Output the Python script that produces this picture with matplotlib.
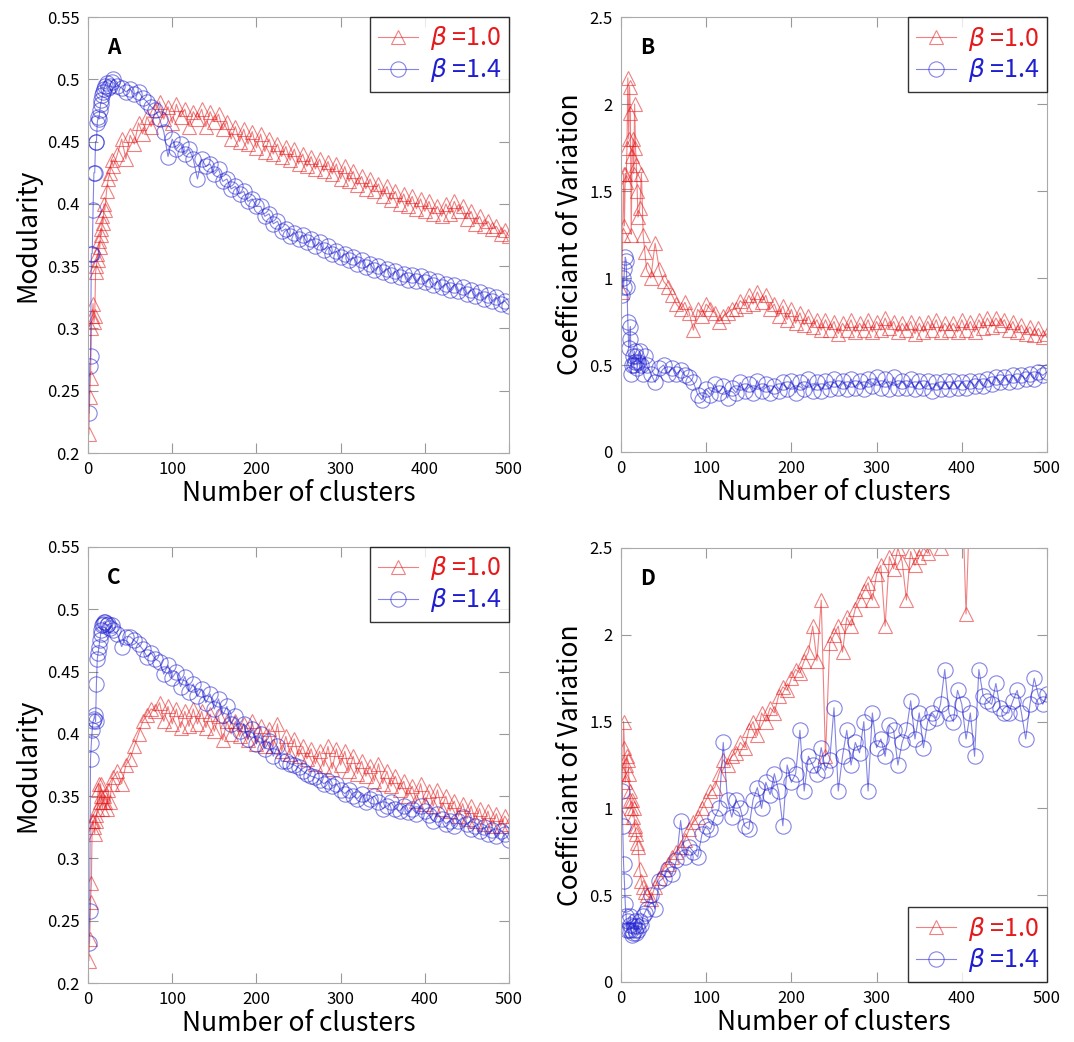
import matplotlib
matplotlib.use('Agg')
import matplotlib.pyplot as plt
from matplotlib.ticker import FormatStrFormatter, MultipleLocator

plt.rcParams['font.family'] = ['Noto Sans CJK JP', 'DejaVu Sans']

# number of clusters (shared x positions)
clusters = list(range(1, 21)) + [22, 24, 26, 28, 30] + list(range(35, 501, 5))

# A: modularity
mod_a_10 = [0.215, 0.245, 0.26, 0.30, 0.31, 0.32, 0.305, 0.31, 0.345, 0.35,
            0.36, 0.355, 0.37, 0.365, 0.38, 0.375, 0.39, 0.385, 0.40, 0.395,
            0.41, 0.42, 0.425, 0.435, 0.43,
            0.44, 0.452, 0.436, 0.455, 0.448, 0.465, 0.456, 0.47, 0.462, 0.475,
            0.482, 0.468, 0.478, 0.465, 0.48, 0.47, 0.476, 0.462, 0.474, 0.468,
            0.476, 0.462, 0.474, 0.466, 0.472, 0.46, 0.466, 0.452, 0.462, 0.45,
            0.46, 0.448, 0.458, 0.445, 0.456, 0.442, 0.452, 0.44, 0.448, 0.438,
            0.446, 0.435, 0.444, 0.432, 0.44, 0.43, 0.438, 0.428, 0.436, 0.426,
            0.434, 0.424, 0.432, 0.42, 0.43, 0.418, 0.426, 0.415, 0.422, 0.412,
            0.42, 0.41, 0.416, 0.406, 0.414, 0.403, 0.41, 0.40, 0.408, 0.398,
            0.406, 0.396, 0.404, 0.394, 0.402, 0.392, 0.398, 0.39, 0.40, 0.392,
            0.402, 0.394, 0.398, 0.388, 0.394, 0.384, 0.39, 0.382, 0.386, 0.38,
            0.382, 0.376, 0.379, 0.374]
mod_a_14 = [0.232, 0.27, 0.278, 0.36, 0.36, 0.395, 0.425, 0.425, 0.45, 0.45,
            0.465, 0.47, 0.468, 0.475, 0.48, 0.483, 0.487, 0.49, 0.492, 0.495,
            0.497, 0.493, 0.495, 0.498, 0.50,
            0.495, 0.493, 0.49, 0.492, 0.488, 0.49, 0.485, 0.482, 0.478, 0.475,
            0.468, 0.458, 0.438, 0.452, 0.444, 0.448, 0.44, 0.444, 0.436, 0.42,
            0.436, 0.43, 0.432, 0.424, 0.428, 0.418, 0.42, 0.412, 0.414, 0.408,
            0.41, 0.402, 0.404, 0.398, 0.398, 0.39, 0.392, 0.384, 0.386, 0.378,
            0.38, 0.374, 0.377, 0.372, 0.375, 0.369, 0.372, 0.366, 0.369, 0.363,
            0.366, 0.36, 0.362, 0.357, 0.36, 0.355, 0.357, 0.352, 0.355, 0.349,
            0.352, 0.347, 0.35, 0.345, 0.348, 0.343, 0.346, 0.341, 0.344, 0.339,
            0.343, 0.338, 0.342, 0.337, 0.34, 0.335, 0.338, 0.333, 0.336, 0.331,
            0.335, 0.33, 0.333, 0.328, 0.331, 0.326, 0.329, 0.324, 0.327, 0.322,
            0.325, 0.32, 0.322, 0.318]

# B: coefficient of variation
cv_b_10 = [0.92, 1.25, 1.6, 1.3, 1.6, 1.55, 1.75, 2.15, 1.8, 2.1,
           1.95, 1.25, 1.7, 1.8, 1.6, 2.0, 1.75, 1.65, 1.5, 1.35,
           1.4, 1.6, 1.25, 1.15, 1.05,
           1.0, 1.2, 1.05, 0.98, 0.95, 0.9, 0.85, 0.82, 0.86, 0.8,
           0.7, 0.82, 0.78, 0.85, 0.82, 0.8, 0.75, 0.78, 0.8, 0.82,
           0.82, 0.87, 0.84, 0.9, 0.85, 0.92, 0.86, 0.9, 0.82, 0.85,
           0.78, 0.84, 0.76, 0.82, 0.74, 0.8, 0.73, 0.78, 0.72, 0.76,
           0.7, 0.76, 0.7, 0.75, 0.68, 0.74, 0.7, 0.76, 0.69, 0.74,
           0.7, 0.76, 0.69, 0.75, 0.7, 0.77, 0.71, 0.75, 0.69, 0.74,
           0.7, 0.75, 0.68, 0.74, 0.69, 0.75, 0.7, 0.76, 0.69, 0.74,
           0.7, 0.74, 0.69, 0.76, 0.7, 0.75, 0.69, 0.76, 0.71, 0.77,
           0.72, 0.77, 0.73, 0.76, 0.7, 0.75, 0.69, 0.73, 0.68, 0.72,
           0.67, 0.71, 0.66, 0.68]
cv_b_14 = [0.9, 1.0, 0.95, 1.05, 1.12, 1.1, 0.95, 0.75, 0.6, 0.65,
           0.72, 0.45, 0.5, 0.55, 0.5, 0.58, 0.52, 0.55, 0.48, 0.52,
           0.58, 0.5, 0.45, 0.55, 0.5,
           0.45, 0.4, 0.48, 0.5, 0.45, 0.48, 0.45, 0.47, 0.44, 0.43,
           0.4, 0.33, 0.3, 0.36, 0.33, 0.39, 0.34, 0.38, 0.31, 0.37,
           0.34, 0.4, 0.35, 0.39, 0.34, 0.41, 0.35, 0.39, 0.34, 0.38,
           0.35, 0.4, 0.36, 0.41, 0.34, 0.4, 0.36, 0.42, 0.35, 0.4,
           0.35, 0.41, 0.36, 0.42, 0.37, 0.41, 0.36, 0.42, 0.37, 0.41,
           0.36, 0.42, 0.38, 0.43, 0.37, 0.42, 0.36, 0.43, 0.37, 0.41,
           0.37, 0.42, 0.36, 0.41, 0.37, 0.41, 0.35, 0.4, 0.36, 0.41,
           0.36, 0.41, 0.37, 0.4, 0.37, 0.41, 0.38, 0.41, 0.38, 0.42,
           0.39, 0.43, 0.4, 0.43, 0.4, 0.44, 0.41, 0.44, 0.42, 0.45,
           0.42, 0.46, 0.44, 0.46]

# C: modularity
mod_c_10 = [0.218, 0.235, 0.265, 0.28, 0.33, 0.33, 0.325, 0.32, 0.33, 0.335,
            0.34, 0.355, 0.36, 0.345, 0.36, 0.35, 0.34, 0.345, 0.35, 0.345,
            0.34, 0.355, 0.345, 0.36, 0.365,
            0.37, 0.36, 0.375, 0.38, 0.39, 0.4, 0.41, 0.415, 0.42, 0.418,
            0.425, 0.41, 0.422, 0.408, 0.42, 0.405, 0.418, 0.406, 0.42, 0.408,
            0.418, 0.405, 0.416, 0.402, 0.414, 0.395, 0.41, 0.4, 0.41, 0.398,
            0.408, 0.395, 0.41, 0.392, 0.406, 0.39, 0.404, 0.39, 0.408, 0.386,
            0.398, 0.384, 0.396, 0.382, 0.39, 0.38, 0.388, 0.376, 0.386, 0.374,
            0.39, 0.372, 0.388, 0.375, 0.386, 0.37, 0.382, 0.368, 0.378, 0.366,
            0.374, 0.362, 0.376, 0.36, 0.37, 0.358, 0.366, 0.355, 0.362, 0.35,
            0.358, 0.346, 0.36, 0.344, 0.354, 0.342, 0.355, 0.34, 0.35, 0.338,
            0.346, 0.334, 0.344, 0.332, 0.342, 0.33, 0.34, 0.328, 0.338, 0.326,
            0.336, 0.326, 0.334, 0.328]
mod_c_14 = [0.232, 0.258, 0.38, 0.393, 0.403, 0.41, 0.412, 0.415, 0.41, 0.44,
            0.46, 0.465, 0.47, 0.475, 0.48, 0.483, 0.487, 0.488, 0.49, 0.49,
            0.487, 0.488, 0.485, 0.487, 0.483,
            0.48, 0.47, 0.478, 0.478, 0.475, 0.472, 0.468, 0.462, 0.465, 0.46,
            0.458, 0.448, 0.455, 0.445, 0.45, 0.438, 0.446, 0.434, 0.44, 0.43,
            0.436, 0.425, 0.432, 0.42, 0.428, 0.415, 0.422, 0.408, 0.414, 0.402,
            0.408, 0.396, 0.404, 0.392, 0.4, 0.388, 0.394, 0.382, 0.39, 0.378,
            0.378, 0.376, 0.375, 0.373, 0.37, 0.368, 0.366, 0.365, 0.363, 0.36,
            0.362, 0.358, 0.36, 0.355, 0.352, 0.355, 0.35, 0.348, 0.352, 0.345,
            0.348, 0.35, 0.345, 0.34, 0.342, 0.345, 0.34, 0.338, 0.342, 0.337,
            0.34, 0.336, 0.342, 0.338, 0.335, 0.33, 0.336, 0.332, 0.328, 0.33,
            0.326, 0.33, 0.333, 0.328, 0.324, 0.326, 0.322, 0.325, 0.32, 0.323,
            0.318, 0.322, 0.32, 0.315]

# D: coefficient of variation (values above 2.5 run off the top)
cv_d_10 = [0.95, 1.2, 1.5, 1.35, 1.15, 1.25, 1.3, 1.28, 1.2, 1.1,
           1.05, 1.0, 1.05, 0.95, 1.0, 0.9, 0.88, 0.85, 0.8, 0.78,
           0.65, 0.58, 0.55, 0.52, 0.5,
           0.48, 0.55, 0.6, 0.65, 0.68, 0.72, 0.75, 0.78, 0.82, 0.88,
           0.92, 0.95, 1.0, 1.05, 1.1, 1.12, 1.2, 1.28, 1.25, 1.3,
           1.32, 1.38, 1.35, 1.45, 1.5, 1.42, 1.55, 1.5, 1.58, 1.55,
           1.65, 1.7, 1.68, 1.75, 1.8, 1.78, 1.85, 1.9, 2.05, 1.85,
           2.2, 1.3, 1.95, 2.0, 2.05, 1.9, 2.1, 2.05, 2.15, 2.2,
           2.25, 2.3, 2.2, 2.35, 2.4, 2.05, 2.45, 2.38, 2.5, 2.42,
           2.2, 2.48, 2.4, 2.45, 2.5, 2.47, 2.55, 2.6, 2.5, 2.65,
           2.7, 2.75, 2.8, 2.9, 2.12, 2.85, 2.95, 3.0, 3.05, 3.1,
           3.1, 3.2, 3.15, 3.25, 3.3, 3.2, 3.35, 3.4, 3.3, 3.45,
           3.5, 3.45, 3.55, 3.6]
cv_d_14 = [1.1, 0.9, 0.68, 0.58, 0.45, 0.38, 0.3, 0.35, 0.3, 0.33,
           0.38, 0.3, 0.27, 0.28, 0.32, 0.3, 0.35, 0.28, 0.32, 0.3,
           0.35, 0.33, 0.38, 0.4, 0.42,
           0.5, 0.42, 0.58, 0.6, 0.65, 0.62, 0.7, 0.93, 0.72, 0.78,
           0.75, 0.72, 0.85, 0.9, 0.88, 0.95, 1.0, 1.38, 1.05, 0.95,
           1.05, 1.0, 0.9, 0.88, 1.05, 1.12, 1.0, 1.15, 1.08, 1.2,
           1.1, 0.9, 1.25, 1.15, 1.2, 1.45, 1.1, 1.3, 1.25, 1.2,
           1.35, 1.22, 1.28, 1.58, 1.1, 1.3, 1.45, 1.25, 1.38, 1.32,
           1.5, 1.1, 1.55, 1.35, 1.4, 1.3, 1.48, 1.45, 1.25, 1.38,
           1.45, 1.62, 1.4, 1.55, 1.35, 1.5, 1.55, 1.52, 1.6, 1.8,
           1.55, 1.5, 1.68, 1.6, 1.4, 1.55, 1.3, 1.8, 1.65, 1.62,
           1.6, 1.72, 1.58, 1.55, 1.55, 1.62, 1.68, 1.55, 1.4, 1.6,
           1.75, 1.65, 1.6, 1.66]

panels = [
    ('A', mod_a_10, mod_a_14, 'Modularity', (0.2, 0.55), 0.05, 'upper right'),
    ('B', cv_b_10, cv_b_14, 'Coefficiant of Variation', (0, 2.5), 0.5, 'upper right'),
    ('C', mod_c_10, mod_c_14, 'Modularity', (0.2, 0.55), 0.05, 'upper right'),
    ('D', cv_d_10, cv_d_14, 'Coefficiant of Variation', (0, 2.5), 0.5, 'lower right'),
]

W, H = 1074, 1042
rects = [(88, 17, 509, 453), (621, 17, 1047, 452),
         (88, 547, 509, 983), (621, 548, 1047, 982)]

fig = plt.figure(figsize=(W / 100, H / 100), dpi=100)
for (letter, y10, y14, ylab, ylim, step, loc), (x0, y0, x1, y1) in zip(panels, rects):
    ax = fig.add_axes([x0 / W, 1 - y1 / H, (x1 - x0) / W, (y1 - y0) / H])
    ax.plot(clusters, y10, color='#e41a1c', lw=0.8, marker='^', ms=10,
            mfc='none', mew=0.8, alpha=0.55, label=r'$\beta$ =1.0')
    ax.plot(clusters, y14, color='#1f1fd0', lw=0.8, marker='o', ms=11,
            mfc='none', mew=0.8, alpha=0.55, label=r'$\beta$ =1.4')
    ax.set_xlim(0, 500)
    ax.set_ylim(*ylim)
    ax.xaxis.set_major_locator(MultipleLocator(100))
    ax.yaxis.set_major_locator(MultipleLocator(step))
    ax.yaxis.set_major_formatter(FormatStrFormatter('%g'))
    ax.tick_params(direction='in', length=7, color='#999999', top=True, right=True,
                   labelsize=12, pad=6)
    for sp in ax.spines.values():
        sp.set_color('#aaaaaa')
    ax.set_xlabel('Number of clusters', fontsize=19, labelpad=1)
    ax.set_ylabel(ylab, fontsize=19, labelpad=4)
    ax.text(0.045, 0.93, letter, transform=ax.transAxes, fontsize=15,
            fontweight='bold', va='center', ha='left')
    leg = ax.legend(loc=loc, fontsize=18, borderaxespad=0, frameon=True,
                    fancybox=False, handlelength=1.6, handletextpad=0.5,
                    borderpad=0.3, labelspacing=0.15)
    leg.get_frame().set_edgecolor('black')
    leg.get_frame().set_linewidth(1.0)
    for txt, c in zip(leg.get_texts(), ['#e41a1c', '#1f1fd0']):
        txt.set_color(c)

plt.savefig('out.png', dpi=100)
